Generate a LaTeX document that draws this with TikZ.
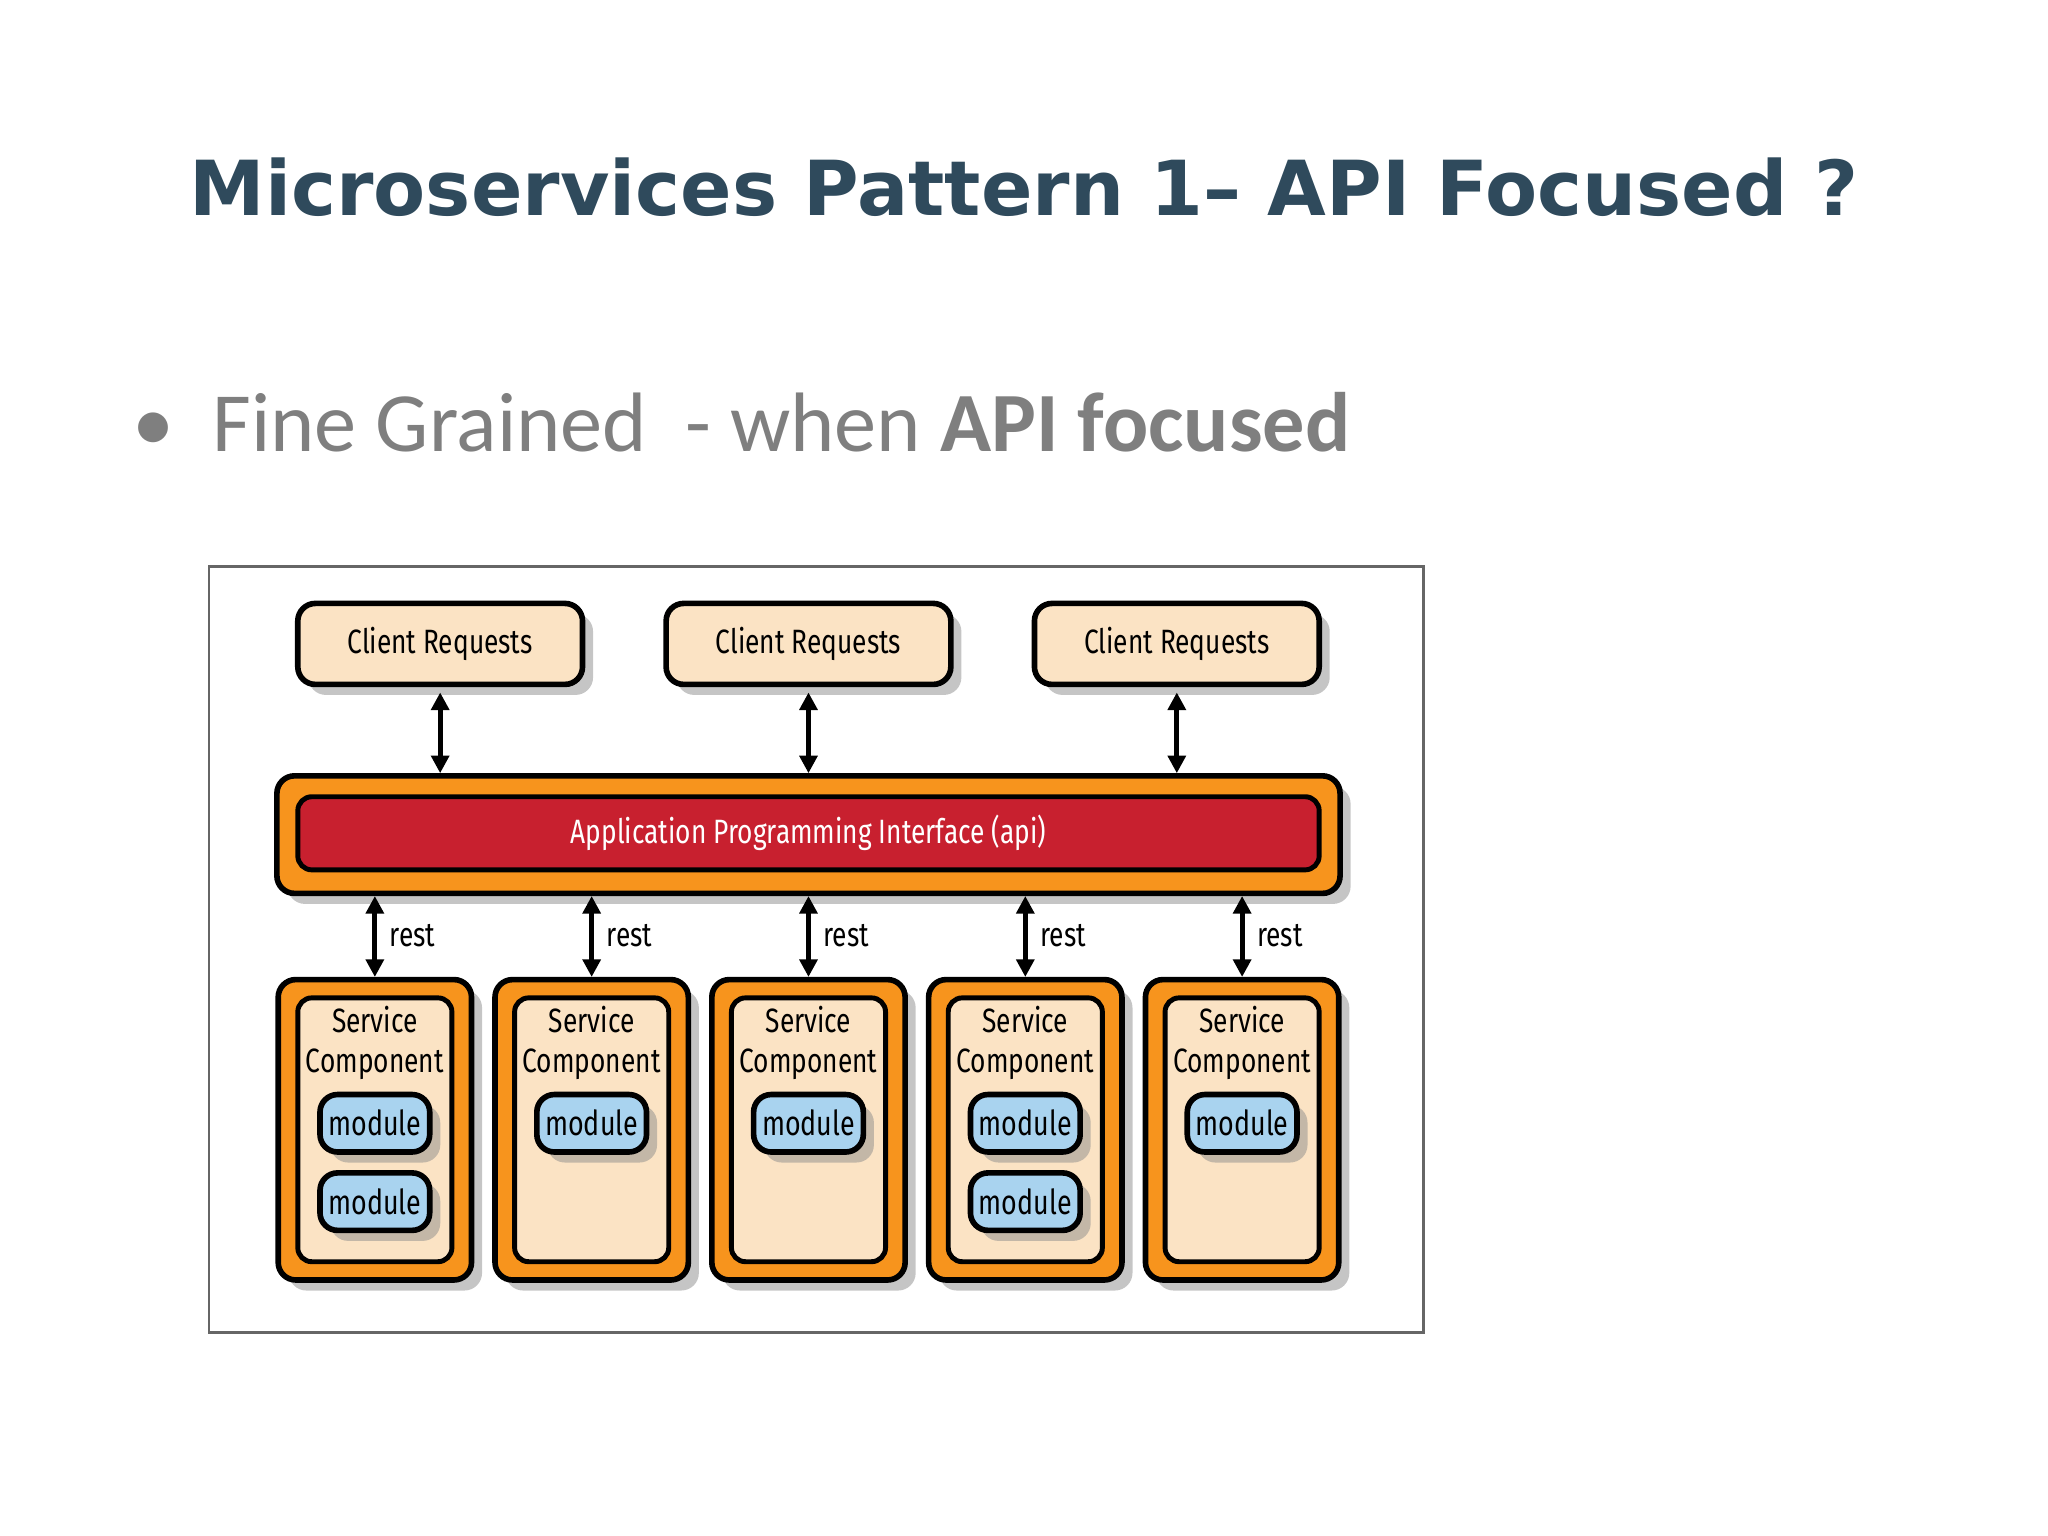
\documentclass[tikz,border=0pt]{standalone}
\usepackage{fontspec}
\setmainfont{Carlito}
\newfontfamily\titlefont{DejaVu Sans}
\newfontfamily\cond{Fira Sans}[FakeStretch=0.78]
\usepackage{xcolor}
\usetikzlibrary{shadows,positioning,arrows.meta}
\definecolor{titleblue}{HTML}{2F4A5C}
\definecolor{bulletgray}{HTML}{7F7F7F}
\definecolor{peach}{HTML}{FBE3C4}
\definecolor{apiorange}{HTML}{F7941D}
\definecolor{apired}{HTML}{C8202F}
\definecolor{modblue}{HTML}{A9D3EF}
\newcommand{\pxu}{0.013061cm}
\tikzset{
  box/.style={draw=black, line width=1.6pt, rounded corners=5pt,
    drop shadow={shadow xshift=3pt, shadow yshift=-3pt, fill=black!45}},
  client/.style={box, fill=peach, minimum width=218*\pxu, minimum height=62*\pxu,
    font=\cond\fontsize{9.6}{12}\selectfont},
  outer/.style={box, fill=apiorange},
  inner/.style={draw=black, line width=1.4pt, rounded corners=4pt},
  module/.style={box, fill=modblue, minimum width=84*\pxu, minimum height=44*\pxu,
    inner sep=1pt, font=\cond\fontsize{9.8}{12}\selectfont},
  link/.style={line width=1.4pt, {Triangle[length=5pt,width=5pt]}-{Triangle[length=5pt,width=5pt]}},
}
\begin{document}
\begin{tikzpicture}[x=0.013061cm, y=-0.013061cm]
  \useasboundingbox (0,0) rectangle (1568,1176);
  % title and bullet
  \node[text=titleblue, font=\titlefont\bfseries\fontsize{21.6}{24}\selectfont] (title) at (784,143)
    {Microservices Pattern 1– API Focused ?};
  \node[text=bulletgray, font=\fontsize{24}{28}\selectfont, anchor=west] (bullet) at (92,323)
    {\textbullet\hspace{0.45em}Fine Grained\ \ - when \textbf{API focused}};
  % frame
  \draw[black!60, line width=0.8pt] (160,434) rectangle (1090,1020);
  % client requests
  \foreach \x [count=\i] in {337,619,901} {
    \node[client] (client\i) at (\x,493) {Client Requests};
  }
  % api bar
  \draw[outer] (212,594) rectangle (1026,684);
  \node[inner, fill=apired, minimum width=782*\pxu, minimum height=56*\pxu, text=white,
    font=\cond\fontsize{9.6}{12}\selectfont] (api) at (619,638) {Application Programming Interface (api)};
  \foreach \x [count=\i] in {337,619,901} {
    \draw[link] (client\i.south) ++(0,4) coordinate (c\i) -- (c\i |- 0,592);
  }
  % service components
  \foreach \x [count=\i] in {287,453,619,785,951} {
    \draw[outer] (\x-74,750) rectangle (\x+74,980);
    \node[inner, fill=peach, minimum width=118*\pxu, minimum height=202*\pxu] (svc\i) at (\x,865) {};
    \node[font=\cond\fontsize{9.6}{11.2}\selectfont, align=center, anchor=north, inner sep=0pt] (svclabel\i)
      at (\x,770) {Service\\Component};
    \coordinate (top\i) at (\x,686);
    \draw[link] (top\i) -- (\x,748);
    \node[font=\cond\fontsize{9.6}{12}\selectfont, anchor=west] (rest\i) at (\x+2,716) {rest};
    \node[module] (moda\i) at (\x,860) {module};
  }
  \node[module] (modb1) at (287,920) {module};
  \node[module] (modb4) at (785,920) {module};
\end{tikzpicture}
\end{document}
